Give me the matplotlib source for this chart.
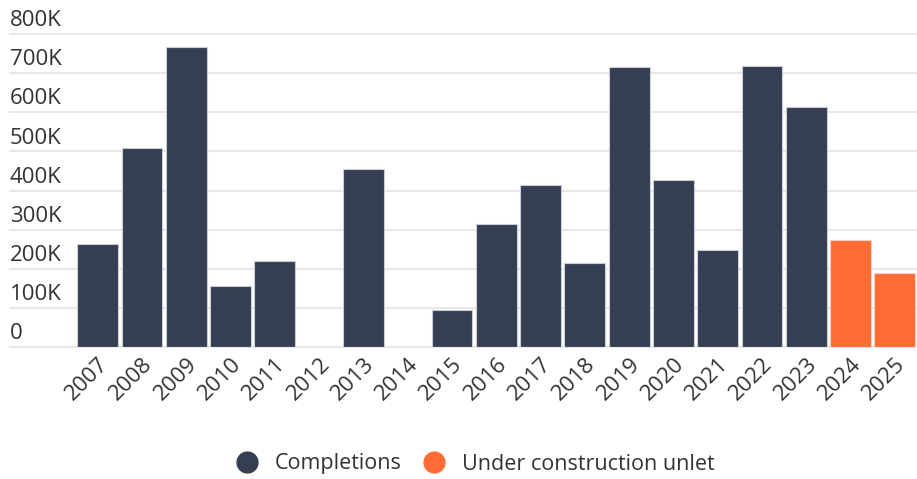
import matplotlib
matplotlib.use("Agg")
import matplotlib.pyplot as plt
from matplotlib.lines import Line2D
import matplotlib.transforms as mtransforms

plt.rcParams['font.family'] = ['Open Sans', 'DejaVu Sans']

# data
years = ['2007', '2008', '2009', '2010', '2011', '2012', '2013', '2014', '2015', '2016',
         '2017', '2018', '2019', '2020', '2021', '2022', '2023', '2024', '2025']
completions = [263, 509, 766, 156, 219, 0, 454, 0, 94, 314,
               413, 214, 716, 426, 247, 719, 613, 0, 0]
under_construction = [0, 0, 0, 0, 0, 0, 0, 0, 0, 0,
                      0, 0, 0, 0, 0, 0, 0, 273, 190]
yticks = [0, 100, 200, 300, 400, 500, 600, 700, 800]
ytick_labels = ['0', '100K', '200K', '300K', '400K', '500K', '600K', '700K', '800K']

dark = '#353f51'
orange = '#ff6b35'
text_col = '#333333'

fig = plt.figure(figsize=(9.17, 4.79), dpi=100)
ax = fig.add_axes([10 / 917, 1 - 347 / 479, 907 / 917, (347 - 34) / 479])

x = list(range(len(years)))
ax.bar(x, completions, width=0.92, color=dark, edgecolor='#c9cdd6', linewidth=0.8, zorder=3)
ax.bar(x, under_construction, width=0.92, color=orange, edgecolor='#ffd0bd', linewidth=0.8, zorder=3)

ax.set_xlim(-1.98, 18.5)
ax.set_ylim(0, 800)

# gridlines + y labels sitting above the lines
for v, lab in zip(yticks, ytick_labels):
    ax.axhline(v, color='#e6e6e6', linewidth=1.3, zorder=1, clip_on=False)
    tr = mtransforms.offset_copy(ax.get_yaxis_transform(), fig=fig, x=0, y=2, units='points')
    ax.text(0, v, lab, transform=tr, ha='left', va='bottom', fontsize=16, color=text_col)

ax.set_yticks([])
ax.set_xticks(x)
ax.set_xticklabels(years, rotation=45, ha='right', rotation_mode='anchor',
                   fontsize=16, color=text_col)
ax.tick_params(axis='x', length=0, pad=5)
for s in ax.spines.values():
    s.set_visible(False)

handles = [Line2D([], [], marker='o', linestyle='', markersize=15, color=dark),
           Line2D([], [], marker='o', linestyle='', markersize=15, color=orange)]
fig.legend(handles, ['Completions', 'Under construction unlet'], loc='center',
           bbox_to_anchor=(470 / 917, 1 - 464 / 479), ncol=2, frameon=False,
           fontsize=15.5, handletextpad=0.3, columnspacing=0.5, labelcolor=text_col)

fig.savefig('out.png', dpi=100)
